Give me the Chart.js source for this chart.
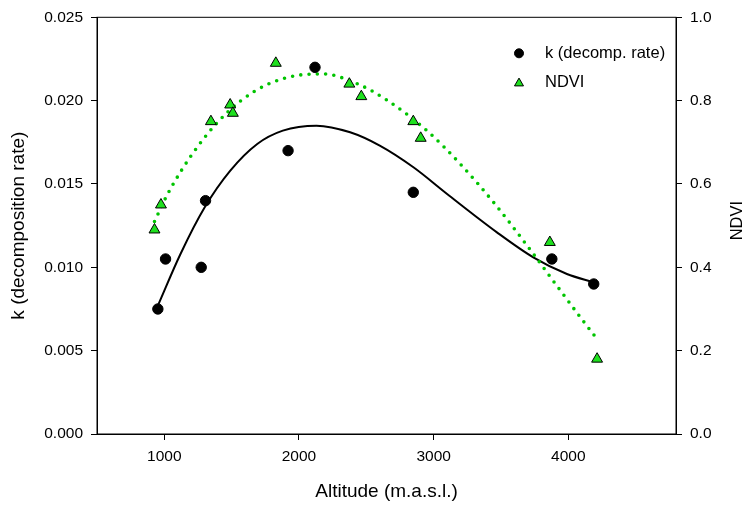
<!DOCTYPE html>
<html>
<head>
<meta charset="utf-8">
<script src="https://cdn.jsdelivr.net/npm/chart.js@4.4.1/dist/chart.umd.min.js"></script>
<style>
  body { margin: 0; background: #fff; }
  #caja { width: 748px; height: 506px; }
</style>
</head>
<body>
<div id="caja"><canvas id="grafico" width="748" height="506"></canvas></div>
<script>
// Datos
var altitudK = [952, 1009, 1274, 1306, 1919, 2119, 2849, 3878, 4189];
var valoresK = [0.0075, 0.0105, 0.0100, 0.0140, 0.0170, 0.0220, 0.0145, 0.0105, 0.0090];

var altitudNdvi = [927, 975, 1346, 1489, 1509, 1828, 2374, 2463, 2849, 2904, 3863, 4214];
var valoresNdvi = [0.49, 0.55, 0.75, 0.79, 0.77, 0.89, 0.84, 0.81, 0.75, 0.71, 0.46, 0.18];

// Curvas de ajuste (leidas punto a punto)
var altitudAjusteK = [952, 1120, 1300, 1490, 1690, 1880, 2130, 2380, 2600, 2850, 3100, 3470, 3740, 3990, 4189];
var valoresAjusteK = [0.0077, 0.0108, 0.0136, 0.0158, 0.0174, 0.0182, 0.0185, 0.0181, 0.0173, 0.0160, 0.0144, 0.0121, 0.0106, 0.0096, 0.0091];

var altitudAjusteNdvi = [927, 1020, 1130, 1255, 1390, 1565, 1760, 1995, 2180, 2415, 2650, 2960, 3195, 3455, 3690, 3910, 4090, 4214];
var valoresAjusteNdvi = [0.51, 0.573, 0.634, 0.693, 0.746, 0.799, 0.838, 0.861, 0.864, 0.843, 0.802, 0.725, 0.649, 0.552, 0.454, 0.358, 0.280, 0.228];

var ticksX = [1000, 2000, 3000, 4000];
var ticksK = [0, 0.005, 0.010, 0.015, 0.020, 0.025];
var ticksNdvi = [0, 0.2, 0.4, 0.6, 0.8, 1.0];

function pares(xs, ys) {
    var out = [];
    for (var i = 0; i < xs.length; i++) {
        out.push({ x: xs[i], y: ys[i] });
    }
    return out;
}

function fijarTicks(lista) {
    return function(scale) {
        scale.ticks = lista.map(function(v) { return { value: v }; });
    };
}

Chart.defaults.color = '#000';
Chart.defaults.font.family = '"Liberation Sans", Arial, sans-serif';

var verdeRelleno = '#1ee01e';
var verdeLinea = '#00c400';

// Marco, titulo derecho y leyenda
var extras = {
    id: 'extras',
    afterDatasetsDraw: function(chart) {
        var ctx = chart.ctx;
        var a = chart.chartArea;
        ctx.save();
        ctx.strokeStyle = '#000';
        ctx.lineWidth = 1;
        ctx.strokeRect(a.left, a.top, a.right - a.left, a.bottom - a.top);

        // titulo eje derecho, girado hacia arriba
        ctx.fillStyle = '#000';
        ctx.font = '16.5px "Liberation Sans", Arial, sans-serif';
        ctx.translate(742, (a.top + a.bottom) / 2 - 5);
        ctx.rotate(-Math.PI / 2);
        ctx.textAlign = 'center';
        ctx.textBaseline = 'alphabetic';
        ctx.fillText('NDVI', 0, 0);
        ctx.restore();

        // leyenda
        ctx.save();
        var lx = a.right - 157;
        var tx = a.right - 131;
        var y1 = a.top + 36;
        var y2 = a.top + 65;
        ctx.fillStyle = '#000';
        ctx.strokeStyle = '#000';
        ctx.lineWidth = 1;
        Chart.helpers.drawPoint(ctx, { pointStyle: 'circle', radius: 4.5, rotation: 0, borderWidth: 1 }, lx, y1);
        ctx.fillStyle = verdeRelleno;
        Chart.helpers.drawPoint(ctx, { pointStyle: 'triangle', radius: 5.2, rotation: 0, borderWidth: 1 }, lx, y2 + 1);
        ctx.fillStyle = '#000';
        ctx.font = '16.5px "Liberation Sans", Arial, sans-serif';
        ctx.textAlign = 'left';
        ctx.textBaseline = 'middle';
        ctx.fillText('k (decomp. rate)', tx, y1);
        ctx.fillText('NDVI', tx, y2);
        ctx.restore();
    }
};

var fuenteTicks = { size: 15.5 };

new Chart(document.getElementById('grafico'), {
    type: 'scatter',
    data: {
        datasets: [
            {
                label: 'NDVI',
                data: pares(altitudNdvi, valoresNdvi),
                yAxisID: 'y2',
                pointStyle: 'triangle',
                pointRadius: 6.3,
                backgroundColor: verdeRelleno,
                borderColor: '#000',
                borderWidth: 1
            },
            {
                label: 'k (decomp. rate)',
                data: pares(altitudK, valoresK),
                yAxisID: 'y',
                pointStyle: 'circle',
                pointRadius: 5.2,
                backgroundColor: '#000',
                borderColor: '#000',
                borderWidth: 1
            },
            {
                label: 'ajuste NDVI',
                data: pares(altitudAjusteNdvi, valoresAjusteNdvi),
                yAxisID: 'y2',
                showLine: true,
                pointRadius: 0,
                borderColor: verdeLinea,
                borderWidth: 3.6,
                borderDash: [0, 8.3],
                borderCapStyle: 'round',
                cubicInterpolationMode: 'monotone'
            },
            {
                label: 'ajuste k',
                data: pares(altitudAjusteK, valoresAjusteK),
                yAxisID: 'y',
                showLine: true,
                pointRadius: 0,
                borderColor: '#000',
                borderWidth: 2,
                cubicInterpolationMode: 'monotone'
            }
        ]
    },
    options: {
        responsive: false,
        animation: false,
        devicePixelRatio: 1,
        events: [],
        layout: { padding: { top: 17, left: 0, right: 0, bottom: 0 } },
        plugins: {
            legend: { display: false },
            tooltip: { enabled: false }
        },
        scales: {
            x: {
                type: 'linear',
                position: 'bottom',
                min: 500,
                max: 4800,
                afterBuildTicks: fijarTicks(ticksX),
                afterFit: function(s) { s.height = 72; },
                grid: { display: true, drawOnChartArea: false, drawTicks: true, tickLength: 6, color: '#000' },
                border: { display: true, color: '#000', width: 1 },
                ticks: {
                    font: fuenteTicks,
                    padding: 7,
                    maxRotation: 0,
                    callback: function(v) { return String(v); }
                },
                title: {
                    display: true,
                    text: 'Altitude (m.a.s.l.)',
                    font: { size: 19 },
                    padding: { top: 0, bottom: 3 }
                }
            },
            y: {
                type: 'linear',
                position: 'left',
                min: 0,
                max: 0.025,
                afterBuildTicks: fijarTicks(ticksK),
                afterFit: function(s) { s.width = 97; },
                grid: { display: true, drawOnChartArea: false, drawTicks: true, tickLength: 6, color: '#000' },
                border: { display: true, color: '#000', width: 1 },
                ticks: {
                    font: fuenteTicks,
                    padding: 8,
                    callback: function(v) { return v.toFixed(3); }
                },
                title: {
                    display: true,
                    text: 'k (decomposition rate)',
                    font: { size: 19 },
                    padding: { top: 7, bottom: 0 }
                }
            },
            y2: {
                type: 'linear',
                position: 'right',
                min: 0,
                max: 1,
                afterBuildTicks: fijarTicks(ticksNdvi),
                afterFit: function(s) { s.width = 72; },
                grid: { display: true, drawOnChartArea: false, drawTicks: true, tickLength: 6, color: '#000' },
                border: { display: true, color: '#000', width: 1 },
                ticks: {
                    font: fuenteTicks,
                    padding: 8,
                    callback: function(v) { return v.toFixed(1); }
                }
            }
        }
    },
    plugins: [extras]
});
</script>
</body>
</html>
